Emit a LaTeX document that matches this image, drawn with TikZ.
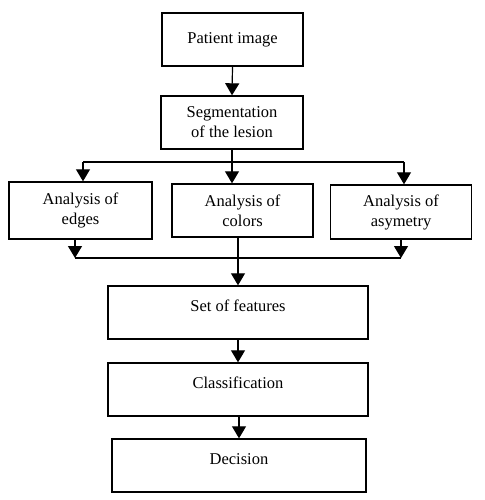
\documentclass[tikz,border=0pt]{standalone}
\usepackage{fontspec}
\setmainfont{Liberation Serif}
\usetikzlibrary{arrows.meta}

\tikzset{
  box/.style={draw, line width=1.4bp, align=center, inner sep=0pt,
    minimum width=141bp, minimum height=53bp,
    font=\fontsize{16.5bp}{20bp}\selectfont},
  lowbox/.style={box, minimum width=260bp, text height=11.5bp, text depth=14bp},
  arr/.style={-{Triangle[width=14bp,length=12bp]}, line width=1.2bp},
  wire/.style={line width=1.2bp},
}

\begin{document}
\begin{tikzpicture}[x=1bp,y=-1bp]
            \useasboundingbox (0,0) rectangle (485,500);

            % Boxes of the chain
            \node[box] (patient) at (232.5,39.5) {Patient image};
            \node[box, minimum width=142bp] (seg) at (232,122.5) {Segmentation\\of the lesion};
            \node[box, minimum width=143bp, minimum height=57bp] (edges) at (80.5,210.5) {Analysis of\\edges};
            \node[box] (colors) at (242.5,210.5) {Analysis of\\colors};
            \node[box, minimum height=54bp] (asym) at (401,212) {Analysis of\\asymetry};
            \node[lowbox] (feat) at (238,312.5) {Set of features};
            \node[lowbox] (class) at (238,389.5) {Classification};
            \node[lowbox, minimum width=254bp] (dec) at (239,465.5) {Decision};

            % Points where the lines split and join
            \coordinate (split) at (232,162);
            \coordinate (joinL) at (75,258);
            \coordinate (joinR) at (401,258);

            % Connectors
            \draw[arr] (patient.south) -- (seg.north);
            \draw[wire] (seg.south) -- (split);
            \draw[wire] ([xshift=2.5bp]edges.north |- split) -- ([xshift=3bp]asym.north |- split);
            \draw[arr] ([xshift=2.5bp]edges.north |- split) -- ([xshift=2.5bp]edges.north);
            \draw[arr] (split) -- (split |- colors.north);
            \draw[arr] ([xshift=3bp]asym.north |- split) -- ([xshift=3bp]asym.north);

            \draw[arr] (joinL |- edges.south) -- (joinL);
            \draw[arr] (joinR |- asym.south) -- (joinR);
            \draw[wire] (joinL) -- (joinR);
            \draw[arr] (feat.north |- colors.south) -- (feat.north);
            \draw[arr] (feat.south) -- (feat.south |- class.north);
            \draw[arr] (class.south -| dec.north) -- (dec.north);
\end{tikzpicture}
\end{document}
